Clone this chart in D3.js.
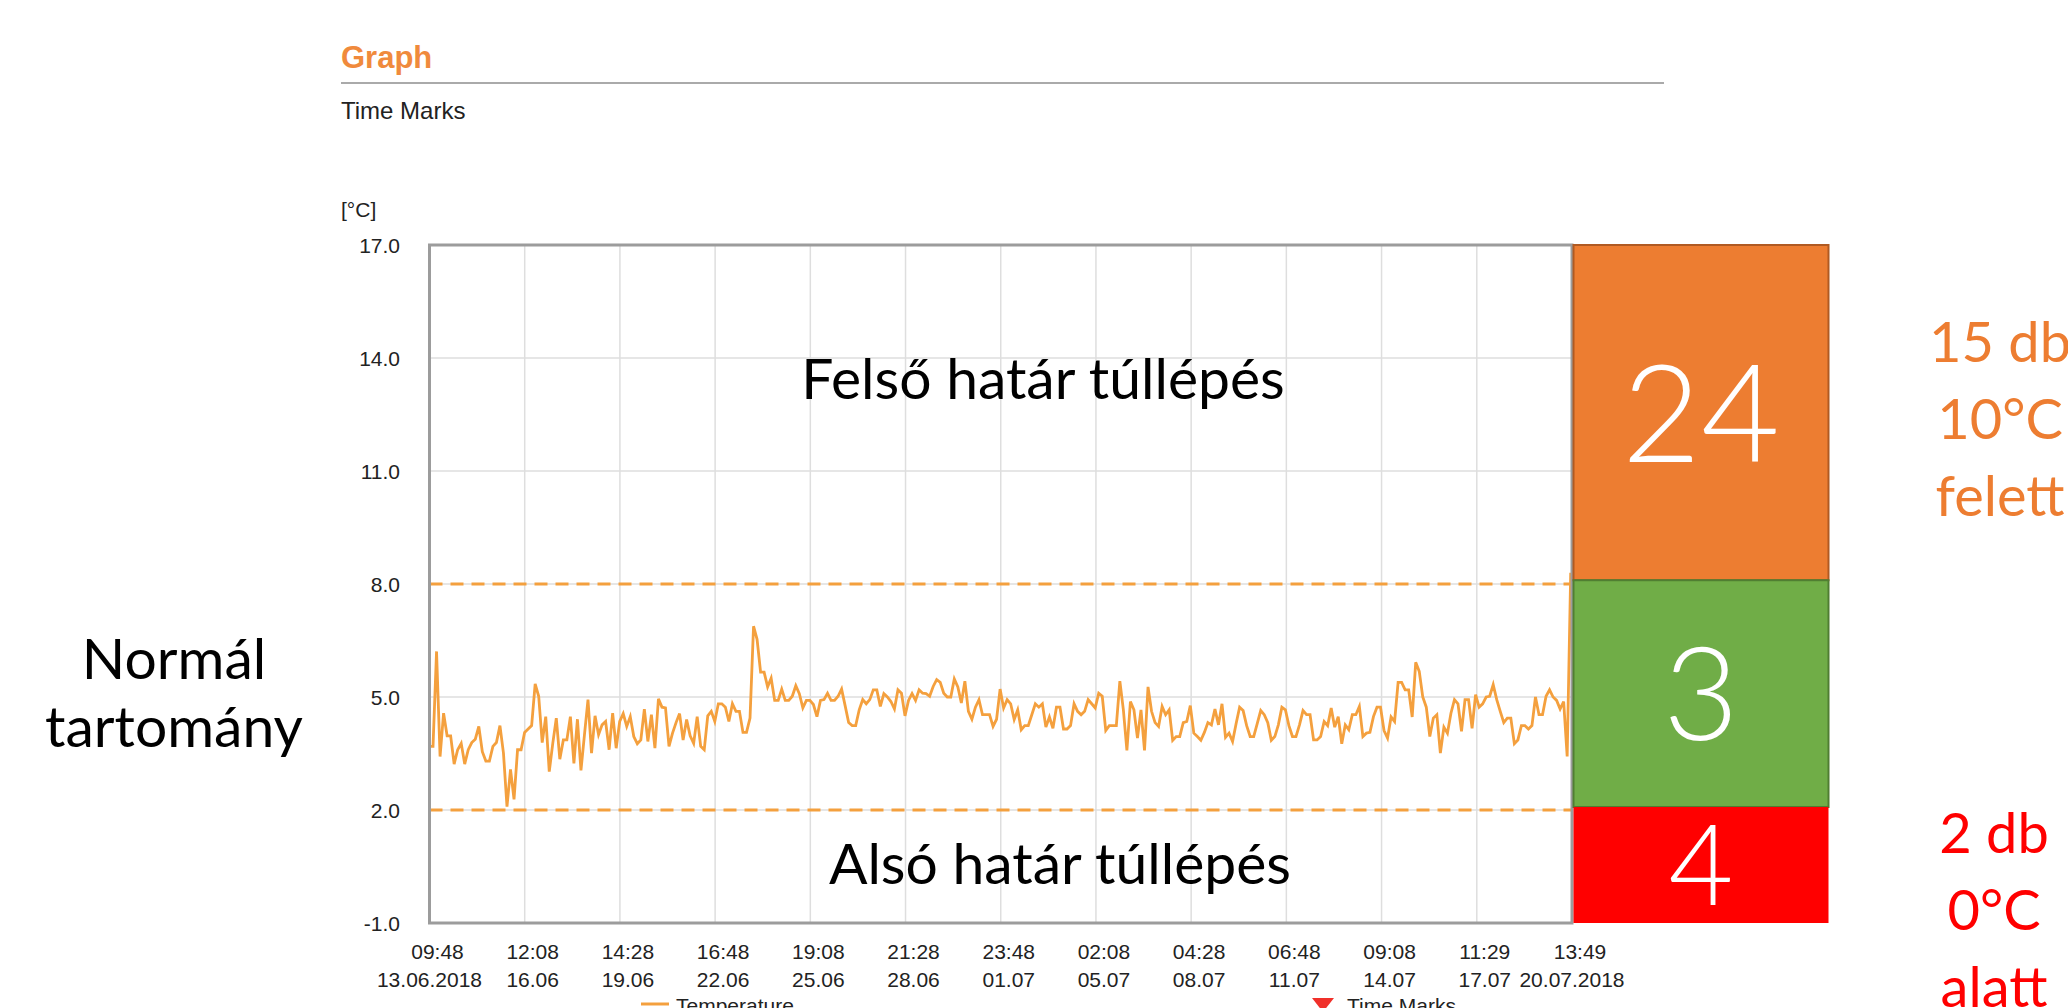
<!DOCTYPE html>
<html>
<head>
<meta charset="utf-8">
<script src="https://cdn.jsdelivr.net/npm/d3@7"></script>
<style>
  body { margin: 0; background: #fff; }
  svg { display: block; }
  .chart text { font-family: "Liberation Sans", Arial, sans-serif; fill: #222; }
  .over { font-family: Lato, "Noto Sans", sans-serif; }
</style>
</head>
<body>
<svg width="2068" height="1008"></svg>
<script>
// logger readings, one every 165 minutes from the first time mark
var startTime = "2018-06-13T09:48";
var stepMinutes = 165;
var temps = [
  3.69, 3.69, 6.21, 3.42, 4.57, 3.97, 3.97, 3.22, 3.6, 3.77, 3.22, 3.6, 3.79, 3.88, 4.22, 3.55,
  3.3, 3.3, 3.69, 3.79, 4.24, 3.51, 2.09, 3.08, 2.28, 3.6, 3.6, 4.06, 4.15, 4.24, 5.35, 5.02,
  3.79, 4.48, 3.02, 3.77, 4.44, 3.35, 3.86, 3.86, 4.48, 3.24, 4.41, 3.05, 4.0, 4.93, 3.51, 4.5,
  4.0, 4.26, 4.35, 3.6, 4.57, 3.64, 4.35, 4.56, 4.22, 4.48, 3.95, 3.76, 3.86, 4.68, 3.82, 4.53,
  3.64, 4.95, 4.73, 4.71, 3.69, 4.04, 4.32, 4.56, 3.86, 4.4, 3.97, 3.77, 4.48, 3.69, 3.6, 4.5,
  4.62, 4.35, 4.82, 4.82, 4.73, 4.35, 4.82, 4.62, 4.62, 4.06, 4.06, 4.44, 6.88, 6.53, 5.66, 5.66,
  5.27, 5.5, 4.91, 4.91, 5.21, 4.91, 4.91, 5.02, 5.3, 5.09, 4.71, 4.91, 4.91, 4.8, 4.48, 4.91,
  4.93, 5.1, 4.91, 4.91, 5.02, 5.21, 4.77, 4.32, 4.24, 4.24, 4.66, 4.93, 4.82, 4.93, 5.19, 5.19,
  4.75, 5.09, 5.0, 4.88, 4.68, 5.19, 5.1, 4.5, 4.91, 5.09, 4.91, 5.19, 5.1, 5.09, 5.02, 5.28,
  5.46, 5.39, 5.1, 5.0, 5.0, 5.48, 5.27, 4.84, 5.42, 4.62, 4.41, 4.73, 4.93, 4.53, 4.53, 4.53,
  4.22, 4.41, 5.21, 4.71, 4.93, 4.82, 4.4, 4.66, 4.13, 4.24, 4.24, 4.53, 4.82, 4.73, 4.82, 4.2,
  4.47, 4.17, 4.73, 4.73, 4.15, 4.15, 4.24, 4.82, 4.62, 4.53, 4.62, 4.93, 4.82, 4.71, 5.1, 5.02,
  4.11, 4.24, 4.24, 4.24, 5.42, 4.66, 3.58, 4.88, 4.66, 3.91, 4.66, 3.58, 5.27, 4.62, 4.32, 4.22,
  4.75, 4.53, 4.66, 3.85, 3.95, 3.95, 4.32, 4.35, 4.77, 4.04, 3.95, 3.85, 4.06, 4.32, 4.26, 4.68,
  4.26, 4.82, 3.93, 4.04, 3.82, 4.29, 4.73, 4.64, 4.24, 3.95, 3.95, 4.29, 4.64, 4.53, 4.32, 3.85,
  3.95, 4.26, 4.73, 4.66, 4.24, 3.95, 3.95, 4.26, 4.64, 4.53, 4.53, 3.86, 3.86, 3.95, 4.35, 4.24,
  4.71, 4.2, 4.48, 3.76, 4.26, 4.13, 4.53, 4.53, 4.75, 3.95, 4.04, 4.06, 4.48, 4.73, 4.73, 4.11,
  3.91, 4.47, 4.35, 5.39, 5.39, 5.19, 5.19, 4.47, 5.92, 5.68, 5.0, 4.73, 3.95, 4.44, 4.53, 3.51,
  4.2, 4.04, 4.57, 4.93, 4.82, 4.09, 4.93, 4.93, 4.17, 5.06, 4.73, 4.82, 5.0, 5.02, 5.33, 4.93,
  4.62, 4.32, 4.44, 4.44, 3.76, 3.86, 4.24, 4.24, 4.15, 4.24, 5.0, 4.53, 4.53, 5.02, 5.19, 5.0,
  4.91, 4.68, 4.88, 3.42, 8.3
];

var tickTimes = [
  "2018-06-13T09:48", "2018-06-16T12:08", "2018-06-19T14:28", "2018-06-22T16:48",
  "2018-06-25T19:08", "2018-06-28T21:28", "2018-07-01T23:48", "2018-07-05T02:08",
  "2018-07-08T04:28", "2018-07-11T06:48", "2018-07-14T09:08", "2018-07-17T11:29",
  "2018-07-20T13:49"
];
var yTicks = [-1, 2, 5, 8, 11, 14, 17];
var limits = [8, 2];

// the overlay boxes on the right: count of events per band
var bands = ["felső", "normál", "alsó"];
var bandTop = [17, 8.1, 2.08];
var bandBottom = [8.1, 2.08, -1];
var bandCounts = [24, 3, 4];
var bandFill = ["#ed7d31", "#70ad47", "#ff0000"];
var bandStroke = ["#b05a22", "#507e32", "none"];
var bandFont = [136, 130, 112];

var upperNote = ["15 db", "10°C", "felett"];
var lowerNote = ["2 db", "0°C", "alatt"];

var parse = d3.timeParse("%Y-%m-%dT%H:%M");
var t0 = parse(tickTimes[0]);
var t1 = parse(tickTimes[tickTimes.length - 1]);
var start = parse(startTime);

var points = temps.map(function (v, i) {
  return { t: new Date(start.getTime() + i * stepMinutes * 60000), v: v };
});

var pLeft = 429.5, pRight = 1572, pTop = 245, pBottom = 923;

var x = d3.scaleTime().domain([t0, t1]).range([pLeft, pRight]);
var y = d3.scaleLinear().domain([-1, 17]).range([pBottom, pTop]);

var svg = d3.select("svg");
svg.append("rect").attr("width", 2068).attr("height", 1008).attr("fill", "#fff");

var chart = svg.append("g").attr("class", "chart");

// header
chart.append("text").attr("x", 341).attr("y", 68)
  .style("font-size", "31px").style("font-weight", "bold").style("fill", "#f08a3c")
  .text("Graph");
chart.append("line").attr("x1", 341).attr("x2", 1664).attr("y1", 83).attr("y2", 83)
  .attr("stroke", "#aaa").attr("stroke-width", 2);
chart.append("text").attr("x", 341).attr("y", 119).style("font-size", "24px").text("Time Marks");
chart.append("text").attr("x", 341).attr("y", 217).style("font-size", "21px").text("[°C]");

// grid
chart.selectAll(".hgrid").data(yTicks).enter().append("line")
  .attr("x1", pLeft).attr("x2", pRight)
  .attr("y1", function (d) { return y(d); }).attr("y2", function (d) { return y(d); })
  .attr("stroke", "#dedede").attr("stroke-width", 1.5);
chart.selectAll(".vgrid").data(tickTimes).enter().append("line")
  .attr("x1", function (d) { return x(parse(d)); }).attr("x2", function (d) { return x(parse(d)); })
  .attr("y1", pTop).attr("y2", pBottom)
  .attr("stroke", "#dedede").attr("stroke-width", 1.5);

// limit lines
chart.selectAll(".limit").data(limits).enter().append("line")
  .attr("x1", pLeft).attr("x2", pRight)
  .attr("y1", function (d) { return y(d); }).attr("y2", function (d) { return y(d); })
  .attr("stroke", "#f4a03e").attr("stroke-width", 3.2).attr("stroke-dasharray", "13,8");

// temperature
chart.append("clipPath").attr("id", "plotclip").append("rect")
  .attr("x", pLeft).attr("y", pTop).attr("width", pRight - pLeft).attr("height", pBottom - pTop);
var line = d3.line().x(function (d) { return x(d.t); }).y(function (d) { return y(d.v); });
chart.append("path").datum(points).attr("d", line)
  .attr("clip-path", "url(#plotclip)")
  .attr("fill", "none").attr("stroke", "#f4a03e").attr("stroke-width", 2.8)
  .attr("stroke-linejoin", "miter");

// frame
chart.append("rect").attr("x", pLeft).attr("y", pTop)
  .attr("width", pRight - pLeft).attr("height", pBottom - pTop)
  .attr("fill", "none").attr("stroke", "#9c9c9c").attr("stroke-width", 3);

// y labels
chart.selectAll(".ylab").data(yTicks).enter().append("text")
  .attr("x", 400).attr("y", function (d) { return y(d); }).attr("dy", "0.36em")
  .attr("text-anchor", "end").style("font-size", "21px")
  .text(function (d) { return d.toFixed(1); });

// x labels
var fTime = d3.timeFormat("%H:%M"), fDay = d3.timeFormat("%d.%m"), fFull = d3.timeFormat("%d.%m.%Y");
var xl = chart.selectAll(".xlab").data(tickTimes).enter().append("g");
xl.append("text")
  .attr("x", function (d) { return x(parse(d)) + 8; }).attr("y", 959)
  .attr("text-anchor", "middle").style("font-size", "21px")
  .text(function (d) { return fTime(parse(d)); });
xl.append("text")
  .attr("x", function (d, i) {
    var edge = i === 0 || i === tickTimes.length - 1;
    return x(parse(d)) + (edge ? 0 : 8);
  })
  .attr("y", 987).attr("text-anchor", "middle").style("font-size", "21px")
  .text(function (d, i) {
    var edge = i === 0 || i === tickTimes.length - 1;
    return edge ? fFull(parse(d)) : fDay(parse(d));
  });

// legend (cut by the bottom edge)
chart.append("line").attr("x1", 641).attr("x2", 669).attr("y1", 1004).attr("y2", 1004)
  .attr("stroke", "#f4a03e").attr("stroke-width", 3);
chart.append("text").attr("x", 676).attr("y", 1013).style("font-size", "21px").text("Temperature");
chart.append("path").attr("d", "M1312,998 L1334,998 L1323,1012 Z").attr("fill", "#f0302a");
chart.append("text").attr("x", 1347).attr("y", 1013).style("font-size", "21px").text("Time Marks");

// overlay boxes
var bx0 = 1573.5, bx1 = 1828.5;
var boxes = svg.selectAll(".band").data(bands).enter().append("g");
boxes.append("rect")
  .attr("x", bx0).attr("width", bx1 - bx0)
  .attr("y", function (d, i) { return y(bandTop[i]); })
  .attr("height", function (d, i) { return y(bandBottom[i]) - y(bandTop[i]); })
  .attr("fill", function (d, i) { return bandFill[i]; })
  .attr("stroke", function (d, i) { return bandStroke[i]; }).attr("stroke-width", 2);
boxes.append("text").attr("class", "over")
  .attr("x", (bx0 + bx1) / 2)
  .attr("y", function (d, i) { return (y(bandTop[i]) + y(bandBottom[i])) / 2; })
  .attr("dy", "0.36em").attr("text-anchor", "middle")
  .style("font-size", function (d, i) { return bandFont[i] + "px"; })
  .style("font-weight", 300).style("fill", "#fff")
  .text(function (d, i) { return bandCounts[i]; });

// captions
svg.append("text").attr("class", "over").attr("x", 1043).attr("y", 399)
  .attr("text-anchor", "middle").style("font-size", "57px").text("Felső határ túllépés");
svg.append("text").attr("class", "over").attr("x", 1060).attr("y", 884)
  .attr("text-anchor", "middle").style("font-size", "57px").text("Alsó határ túllépés");
svg.selectAll(".normal").data(["Normál", "tartomány"]).enter().append("text")
  .attr("class", "over").attr("x", 174).attr("y", function (d, i) { return 679 + i * 68; })
  .attr("text-anchor", "middle").style("font-size", "57px").text(function (d) { return d; });

svg.selectAll(".up").data(upperNote).enter().append("text")
  .attr("class", "over").attr("x", 2000).attr("y", function (d, i) { return 362 + i * 77; })
  .attr("text-anchor", "middle").style("font-size", "56px").style("fill", "#ed7d31")
  .text(function (d) { return d; });
svg.selectAll(".low").data(lowerNote).enter().append("text")
  .attr("class", "over").attr("x", 1994).attr("y", function (d, i) { return 853 + i * 77; })
  .attr("text-anchor", "middle").style("font-size", "56px").style("fill", "#ff0000")
  .text(function (d) { return d; });
</script>
</body>
</html>
